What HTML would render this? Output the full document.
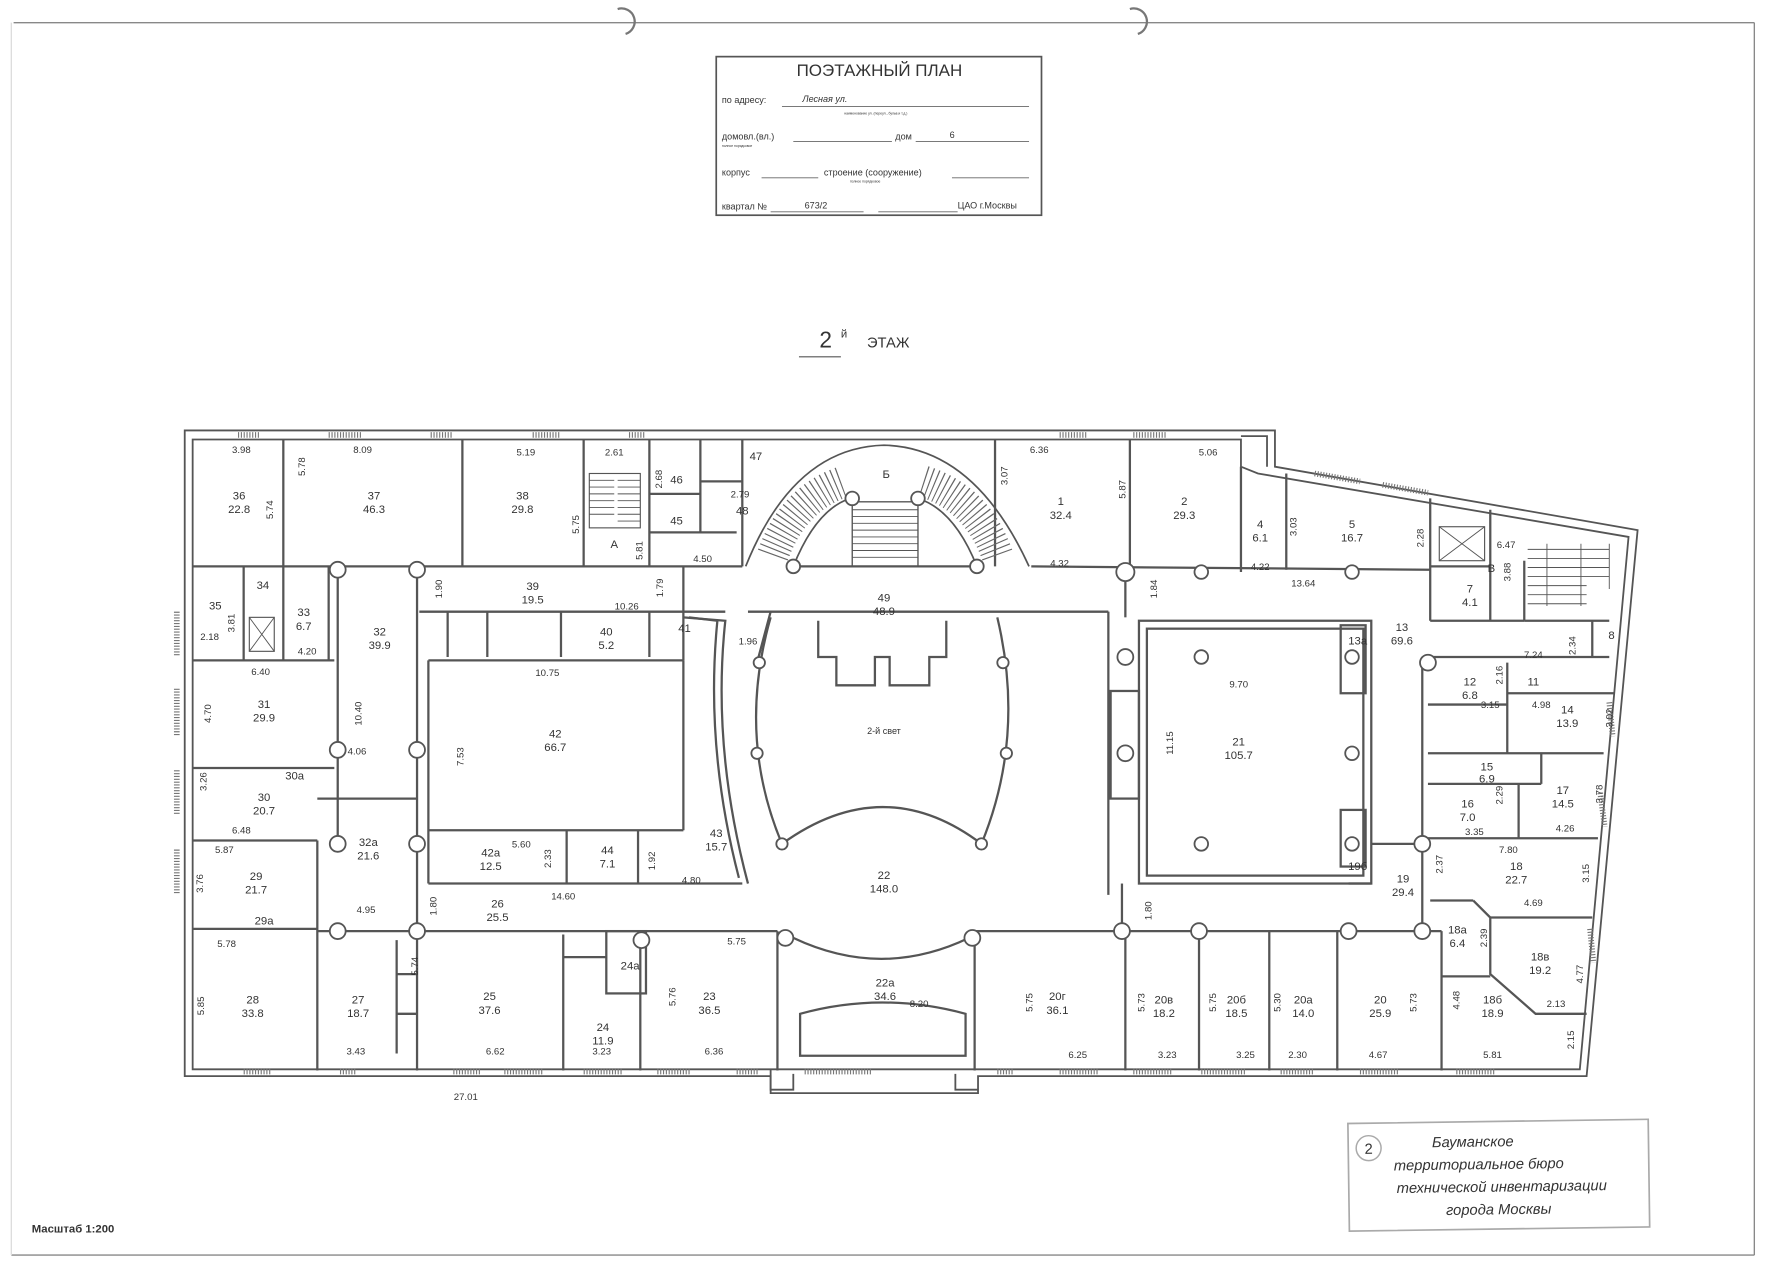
<!DOCTYPE html>
<html><head><meta charset="utf-8"><style>
html,body{margin:0;padding:0;background:#fff;}
svg{display:block}
text{font-family:"Liberation Sans",sans-serif;fill:#333}
</style></head><body>
<svg width="1777" height="1280" viewBox="0 0 1568 1130" preserveAspectRatio="none" xmlns="http://www.w3.org/2000/svg">
<rect width="1568" height="1130" fill="#fff"/>
<!-- page border -->
<g stroke="#888" stroke-width="1.2" fill="none">
<line x1="12" y1="20" x2="1548" y2="20"/>
<line x1="1548" y1="20" x2="1548" y2="1108"/>
<line x1="10" y1="1108" x2="1548" y2="1108"/>
<line x1="10" y1="20" x2="10" y2="1108" stroke="#ddd"/>
<path d="M545,8 A10,10 0 0 1 552,30" stroke="#777" stroke-width="2"/>
<path d="M997,8 A10,10 0 0 1 1004,30" stroke="#777" stroke-width="2"/>
</g>
<!-- title box -->
<rect x="632" y="50" width="287" height="140" fill="none" stroke="#555" stroke-width="1.5"/>
<text x="776" y="67" font-size="15" text-anchor="middle" fill="#444">ПОЭТАЖНЫЙ ПЛАН</text>
<g font-size="8" fill="#555">
<text x="637" y="91">по адресу:</text><text x="708" y="90" font-style="italic">Лесная ул.</text>
<text x="637" y="123">домовл.(вл.)</text><text x="790" y="123">дом</text><text x="838" y="122">6</text>
<text x="637" y="155">корпус</text><text x="727" y="155">строение (сооружение)</text>
<text x="637" y="185">квартал №</text><text x="710" y="184">673/2</text><text x="845" y="184">ЦАО г.Москвы</text>
</g>
<g font-size="3" fill="#888"><text x="745" y="101">наименование ул. (переул., бульв.и т.д.)</text><text x="637" y="130">полное порядковое</text><text x="750" y="161">полное порядковое</text></g>
<g stroke="#666" stroke-width="0.8">
<line x1="690" y1="94" x2="908" y2="94"/><line x1="700" y1="125" x2="787" y2="125"/><line x1="808" y1="125" x2="908" y2="125"/>
<line x1="672" y1="157" x2="722" y2="157"/><line x1="840" y1="157" x2="908" y2="157"/>
<line x1="680" y1="187" x2="762" y2="187"/><line x1="775" y1="187" x2="845" y2="187"/>
</g>
<!-- floor title -->
<text x="723" y="307" font-size="20" fill="#444">2</text><text x="742" y="298" font-size="10" fill="#444">й</text>
<line x1="705" y1="315" x2="742" y2="315" stroke="#555" stroke-width="1"/>
<text x="765" y="307" font-size="13" fill="#444">ЭТАЖ</text>

<!-- building outer walls -->
<g fill="none" stroke="#555" stroke-width="1.6">
<path d="M163,380 L1125,380 L1125,412 L1445,468 L1400,950 L863,950 L863,965 L680,965 L680,950 L163,950 Z"/>
<path d="M170,388 L1095,388 L1095,412 L1110,418 L1437,474 L1394,944 L170,944 Z"/>
<path d="M1095,385 L1118,385 L1118,412"/>
<path d="M680,944 L680,962 L700,962 L700,948 M843,948 L843,962 L863,962"/>
</g>
<!-- windows -->
<g stroke="#777" stroke-width="5" stroke-dasharray="1 1.5">
<line x1="156" y1="540" x2="156" y2="580"/><line x1="156" y1="608" x2="156" y2="650"/><line x1="156" y1="680" x2="156" y2="720"/><line x1="156" y1="750" x2="156" y2="790"/>
<line x1="210" y1="384" x2="230" y2="384"/><line x1="290" y1="384" x2="320" y2="384"/><line x1="380" y1="384" x2="400" y2="384"/>
<line x1="470" y1="384" x2="495" y2="384"/><line x1="555" y1="384" x2="570" y2="384"/><line x1="935" y1="384" x2="960" y2="384"/><line x1="1000" y1="384" x2="1030" y2="384"/>
<line x1="1160" y1="418" x2="1200" y2="425"/><line x1="1220" y1="428" x2="1260" y2="435"/>
<line x1="1420" y1="620" x2="1423" y2="650"/><line x1="1412" y1="700" x2="1416" y2="730"/><line x1="1403" y1="820" x2="1406" y2="850"/>
<line x1="215" y1="946" x2="240" y2="946"/><line x1="300" y1="946" x2="315" y2="946"/><line x1="400" y1="946" x2="425" y2="946"/><line x1="445" y1="946" x2="480" y2="946"/><line x1="515" y1="946" x2="550" y2="946"/><line x1="580" y1="946" x2="610" y2="946"/><line x1="650" y1="946" x2="670" y2="946"/>
<line x1="710" y1="946" x2="770" y2="946"/><line x1="880" y1="946" x2="895" y2="946"/><line x1="935" y1="946" x2="970" y2="946"/><line x1="1000" y1="946" x2="1035" y2="946"/><line x1="1060" y1="946" x2="1100" y2="946"/><line x1="1130" y1="946" x2="1160" y2="946"/><line x1="1200" y1="946" x2="1235" y2="946"/><line x1="1285" y1="946" x2="1320" y2="946"/>
</g>

<!-- interior walls -->
<g fill="none" stroke="#555" stroke-width="2">
<!-- top row -->
<line x1="250" y1="388" x2="250" y2="500"/><line x1="408" y1="388" x2="408" y2="500"/><line x1="515" y1="388" x2="515" y2="500"/>
<line x1="573" y1="388" x2="573" y2="500"/><line x1="618" y1="388" x2="618" y2="470"/><line x1="655" y1="388" x2="655" y2="500"/>
<line x1="573" y1="470" x2="650" y2="470"/><line x1="573" y1="436" x2="618" y2="436"/><line x1="618" y1="425" x2="655" y2="425"/>
<line x1="878" y1="388" x2="878" y2="500"/><line x1="997" y1="388" x2="997" y2="505"/><line x1="1095" y1="412" x2="1095" y2="505"/>
<line x1="1135" y1="418" x2="1135" y2="503"/><line x1="1262" y1="440" x2="1262" y2="548"/><line x1="1315" y1="450" x2="1315" y2="548"/>
<line x1="1262" y1="548" x2="1345" y2="548"/><line x1="1262" y1="500" x2="1315" y2="500"/>
<line x1="170" y1="500" x2="655" y2="500"/><line x1="700" y1="500" x2="862" y2="500"/><line x1="910" y1="500" x2="1262" y2="503"/>
<!-- left block -->
<line x1="215" y1="500" x2="215" y2="583"/><line x1="250" y1="500" x2="250" y2="583"/><line x1="290" y1="500" x2="290" y2="583"/>
<line x1="170" y1="583" x2="295" y2="583"/><line x1="298" y1="503" x2="298" y2="745"/><line x1="368" y1="503" x2="368" y2="945"/>
<line x1="170" y1="678" x2="295" y2="678"/><line x1="170" y1="742" x2="280" y2="742"/><line x1="280" y1="742" x2="280" y2="945"/>
<line x1="170" y1="820" x2="280" y2="820"/><line x1="280" y1="705" x2="368" y2="705"/>
<!-- corridor 39 / room 42 -->
<line x1="370" y1="540" x2="640" y2="540"/><line x1="378" y1="583" x2="603" y2="583"/><line x1="603" y1="583" x2="603" y2="733"/>
<line x1="378" y1="583" x2="378" y2="780"/><line x1="378" y1="733" x2="603" y2="733"/><line x1="378" y1="780" x2="655" y2="780"/>
<line x1="500" y1="733" x2="500" y2="780"/><line x1="563" y1="733" x2="563" y2="780"/>
<line x1="395" y1="540" x2="395" y2="580"/><line x1="430" y1="540" x2="430" y2="580"/><line x1="495" y1="540" x2="495" y2="580"/><line x1="573" y1="540" x2="573" y2="580"/>
<line x1="603" y1="500" x2="603" y2="583"/>
<path d="M603,545 L640,548 Q628,660 660,780"/>
<path d="M608,545 L633,548 Q622,660 652,775"/>
<!-- corridor 26 bottom, bottom rooms -->
<line x1="280" y1="822" x2="686" y2="822"/><line x1="860" y1="822" x2="1272" y2="822"/>
<line x1="497" y1="825" x2="497" y2="945"/><line x1="565" y1="825" x2="565" y2="945"/><line x1="686" y1="822" x2="686" y2="945"/><line x1="860" y1="822" x2="860" y2="945"/>
<line x1="993" y1="822" x2="993" y2="945"/><line x1="1058" y1="822" x2="1058" y2="945"/><line x1="1120" y1="822" x2="1120" y2="945"/><line x1="1180" y1="822" x2="1180" y2="945"/><line x1="1272" y1="822" x2="1272" y2="945"/>
<rect x="535" y="822" width="35" height="55"/><line x1="497" y1="845" x2="535" y2="845"/>
<line x1="350" y1="830" x2="350" y2="930"/><line x1="350" y1="860" x2="368" y2="860"/><line x1="350" y1="895" x2="368" y2="895"/>
<!-- central hall -->
<path d="M660,540 L680,540 L668,585"/><line x1="680" y1="540" x2="978" y2="540"/>
<line x1="978" y1="540" x2="978" y2="790"/><line x1="990" y1="780" x2="990" y2="822"/><line x1="993" y1="505" x2="993" y2="545"/>
<path d="M680,545 Q650,650 690,745 Q780,680 866,745 Q905,650 880,545"/>
<path d="M722,548 L722,580 L738,580 L738,605 L772,605 L772,580 L785,580 L785,605 L820,605 L820,580 L835,580 L835,548"/>
<path d="M700,828 Q778,865 855,828"/>
<path d="M706,895 Q778,875 852,895 L852,932 L706,932 Z"/>
<!-- room 21 -->
<rect x="1005" y="548" width="205" height="232"/>
<rect x="1012" y="555" width="191" height="218"/>
<rect x="980" y="610" width="25" height="95"/><rect x="1183" y="552" width="22" height="60"/><rect x="1183" y="715" width="22" height="50"/>
<line x1="1210" y1="745" x2="1255" y2="745"/><line x1="1190" y1="780" x2="1210" y2="780"/>
<!-- right block -->
<line x1="1255" y1="580" x2="1255" y2="822"/><line x1="1260" y1="580" x2="1420" y2="580"/>
<line x1="1345" y1="548" x2="1345" y2="495"/><line x1="1345" y1="548" x2="1420" y2="548"/><line x1="1405" y1="548" x2="1405" y2="580"/>
<line x1="1330" y1="585" x2="1330" y2="665"/><line x1="1260" y1="622" x2="1330" y2="622"/><line x1="1330" y1="612" x2="1425" y2="612"/>
<line x1="1260" y1="665" x2="1415" y2="665"/><line x1="1360" y1="665" x2="1360" y2="692"/><line x1="1260" y1="692" x2="1360" y2="692"/>
<line x1="1340" y1="692" x2="1340" y2="740"/><line x1="1260" y1="740" x2="1410" y2="740"/>
<line x1="1262" y1="795" x2="1300" y2="795"/><path d="M1300,795 L1315,810 L1315,860 L1355,895 L1400,895"/><line x1="1315" y1="810" x2="1405" y2="810"/>
<line x1="1272" y1="862" x2="1315" y2="862"/>
</g>
<!-- stairs -->
<g fill="none" stroke="#555">
<path d="M658,500 Q700,395 780,393 Q860,395 908,500" stroke-width="1.5"/>
<path d="M700,500 Q720,450 750,440 M810,440 Q842,450 862,500" stroke-width="1.5"/>
<path d="M682,490 Q700,440 745,425" stroke-width="28" stroke="#666" stroke-dasharray="1 3.5"/>
<path d="M815,425 Q862,440 880,490" stroke-width="28" stroke="#666" stroke-dasharray="1 3.5"/>
<rect x="752" y="443" width="58" height="57" stroke-width="1.2"/>
<path d="M752,450 H810 M752,456 H810 M752,462 H810 M752,468 H810 M752,474 H810 M752,480 H810 M752,486 H810 M752,492 H810" stroke-width="0.8"/>
<rect x="520" y="418" width="45" height="48" stroke-width="1"/>
<path d="M520,424H542M520,430H542M520,436H542M520,442H542M520,448H542M520,454H542M545,424H565M545,430H565M545,436H565M545,442H565M545,448H565M545,454H565M545,460H565" stroke-width="0.8"/>
<path d="M1348,485H1420M1348,493H1420M1348,501H1420M1348,509H1420M1348,517H1400M1348,525H1400M1348,533H1400M1365,480V535M1395,480V535M1420,480V520" stroke-width="0.8"/>
<rect x="1270" y="465" width="40" height="30" stroke-width="1"/><path d="M1270,465L1310,495M1310,465L1270,495" stroke-width="0.8"/>
<rect x="220" y="545" width="22" height="30" stroke-width="1"/><path d="M220,545L242,575M242,545L220,575" stroke-width="0.8"/>
</g>
<!-- columns -->
<g fill="#fff" stroke="#555" stroke-width="1.6">
<circle cx="298" cy="503" r="7"/><circle cx="368" cy="503" r="7"/><circle cx="298" cy="662" r="7"/><circle cx="368" cy="662" r="7"/>
<circle cx="298" cy="745" r="7"/><circle cx="368" cy="745" r="7"/><circle cx="298" cy="822" r="7"/><circle cx="368" cy="822" r="7"/>
<circle cx="566" cy="830" r="7"/><circle cx="693" cy="828" r="7"/><circle cx="858" cy="828" r="7"/>
<circle cx="700" cy="500" r="6"/><circle cx="862" cy="500" r="6"/><circle cx="752" cy="440" r="6"/><circle cx="810" cy="440" r="6"/>
<circle cx="993" cy="505" r="8"/><circle cx="1060" cy="505" r="6"/><circle cx="1193" cy="505" r="6"/>
<circle cx="670" cy="585" r="5"/><circle cx="668" cy="665" r="5"/><circle cx="690" cy="745" r="5"/><circle cx="866" cy="745" r="5"/><circle cx="888" cy="665" r="5"/><circle cx="885" cy="585" r="5"/>
<circle cx="993" cy="580" r="7"/><circle cx="993" cy="665" r="7"/><circle cx="990" cy="822" r="7"/><circle cx="1058" cy="822" r="7"/><circle cx="1190" cy="822" r="7"/><circle cx="1255" cy="822" r="7"/><circle cx="1255" cy="745" r="7"/><circle cx="1260" cy="585" r="7"/>
<circle cx="1060" cy="580" r="6"/><circle cx="1193" cy="580" r="6"/><circle cx="1060" cy="745" r="6"/><circle cx="1193" cy="665" r="6"/><circle cx="1193" cy="745" r="6"/>
</g>

<!-- room labels -->
<g font-size="10" text-anchor="middle" fill="#333">
<text x="211" y="441">36</text><text x="211" y="453">22.8</text>
<text x="330" y="441">37</text><text x="330" y="453">46.3</text>
<text x="461" y="441">38</text><text x="461" y="453">29.8</text>
<text x="597" y="427">46</text><text x="597" y="463">45</text><text x="667" y="406">47</text><text x="655" y="454">48</text><text x="542" y="484">А</text>
<text x="936" y="446">1</text><text x="936" y="458">32.4</text>
<text x="1045" y="446">2</text><text x="1045" y="458">29.3</text>
<text x="1112" y="466">4</text><text x="1112" y="478">6.1</text>
<text x="1193" y="466">5</text><text x="1193" y="478">16.7</text>
<text x="782" y="422">Б</text><text x="1316" y="505">В</text>
<text x="1297" y="523">7</text><text x="1297" y="535">4.1</text>
<text x="470" y="521">39</text><text x="470" y="533">19.5</text>
<text x="780" y="531">49</text><text x="780" y="543">48.9</text>
<text x="535" y="561">40</text><text x="535" y="573">5.2</text><text x="604" y="558">41</text>
<text x="1237" y="557">13</text><text x="1237" y="569">69.6</text><text x="1198" y="569">13а</text>
<text x="268" y="544">33</text><text x="268" y="556">6.7</text><text x="232" y="520">34</text><text x="190" y="538">35</text>
<text x="335" y="561">32</text><text x="335" y="573">39.9</text>
<text x="233" y="625">31</text><text x="233" y="637">29.9</text>
<text x="490" y="651">42</text><text x="490" y="663">66.7</text>
<text x="780" y="648" font-size="8">2-й свет</text>
<text x="1093" y="658">21</text><text x="1093" y="670">105.7</text>
<text x="1297" y="605">12</text><text x="1297" y="617">6.8</text><text x="1353" y="605">11</text><text x="1422" y="564">8</text>
<text x="1383" y="630">14</text><text x="1383" y="642">13.9</text>
<text x="1312" y="680">15</text><text x="1312" y="691">6.9</text>
<text x="1295" y="713">16</text><text x="1295" y="725">7.0</text>
<text x="1379" y="701">17</text><text x="1379" y="713">14.5</text>
<text x="233" y="707">30</text><text x="233" y="719">20.7</text><text x="260" y="688">30а</text>
<text x="325" y="747">32а</text><text x="325" y="759">21.6</text>
<text x="433" y="756">42а</text><text x="433" y="768">12.5</text>
<text x="536" y="754">44</text><text x="536" y="766">7.1</text>
<text x="632" y="739">43</text><text x="632" y="751">15.7</text>
<text x="780" y="776">22</text><text x="780" y="788">148.0</text>
<text x="1198" y="768">19б</text><text x="1238" y="779">19</text><text x="1238" y="791">29.4</text>
<text x="1338" y="768">18</text><text x="1338" y="780">22.7</text>
<text x="226" y="777">29</text><text x="226" y="789">21.7</text><text x="233" y="816">29а</text>
<text x="439" y="801">26</text><text x="439" y="813">25.5</text>
<text x="1286" y="824">18а</text><text x="1286" y="836">6.4</text>
<text x="1359" y="848">18в</text><text x="1359" y="860">19.2</text><text x="556" y="856">24а</text>
<text x="223" y="886">28</text><text x="223" y="898">33.8</text>
<text x="316" y="886">27</text><text x="316" y="898">18.7</text>
<text x="432" y="883">25</text><text x="432" y="895">37.6</text>
<text x="532" y="910">24</text><text x="532" y="922">11.9</text>
<text x="626" y="883">23</text><text x="626" y="895">36.5</text>
<text x="781" y="871">22а</text><text x="781" y="883">34.6</text>
<text x="933" y="883">20г</text><text x="933" y="895">36.1</text>
<text x="1027" y="886">20в</text><text x="1027" y="898">18.2</text>
<text x="1091" y="886">20б</text><text x="1091" y="898">18.5</text>
<text x="1150" y="886">20а</text><text x="1150" y="898">14.0</text>
<text x="1218" y="886">20</text><text x="1218" y="898">25.9</text>
<text x="1317" y="886">18б</text><text x="1317" y="898">18.9</text>
</g>
<!-- dimensions -->
<g font-size="8.5" text-anchor="middle" fill="#555">
<text x="213" y="400">3.98</text><text x="320" y="400">8.09</text><text x="464" y="402">5.19</text><text x="542" y="402">2.61</text><text x="917" y="400">6.36</text><text x="1066" y="402">5.06</text>
<text x="620" y="496">4.50</text><text x="935" y="500">4.32</text><text x="1112" y="503">4.22</text><text x="1150" y="518">13.64</text><text x="553" y="538">10.26</text><text x="660" y="569">1.96</text>
<text x="230" y="596">6.40</text><text x="185" y="565">2.18</text><text x="271" y="578">4.20</text><text x="483" y="597">10.75</text><text x="1093" y="607">9.70</text><text x="1353" y="581">7.24</text>
<text x="1315" y="625">3.15</text><text x="1360" y="625">4.98</text><text x="1329" y="484">6.47</text><text x="653" y="439">2.79</text><text x="315" y="666">4.06</text><text x="213" y="736">6.48</text><text x="198" y="753">5.87</text>
<text x="460" y="748">5.60</text><text x="497" y="794">14.60</text><text x="610" y="780">4.80</text><text x="323" y="806">4.95</text><text x="1301" y="737">3.35</text><text x="1381" y="734">4.26</text><text x="1331" y="753">7.80</text><text x="1353" y="800">4.69</text>
<text x="200" y="836">5.78</text><text x="650" y="834">5.75</text><text x="811" y="889">8.20</text><text x="1373" y="889">2.13</text>
<text x="314" y="931">3.43</text><text x="437" y="931">6.62</text><text x="531" y="931">3.23</text><text x="630" y="931">6.36</text><text x="951" y="934">6.25</text><text x="1030" y="934">3.23</text><text x="1099" y="934">3.25</text><text x="1145" y="934">2.30</text><text x="1216" y="934">4.67</text><text x="1317" y="934">5.81</text>
<text x="411" y="971">27.01</text>
</g>
<g font-size="8.5" text-anchor="middle" fill="#555">
<text transform="translate(241,450) rotate(-90)">5.74</text><text transform="translate(269,412) rotate(-90)">5.78</text><text transform="translate(511,463) rotate(-90)">5.75</text><text transform="translate(567,486) rotate(-90)">5.81</text><text transform="translate(584,423) rotate(-90)">2.68</text>
<text transform="translate(889,420) rotate(-90)">3.07</text><text transform="translate(993,432) rotate(-90)">5.87</text><text transform="translate(1144,465) rotate(-90)">3.03</text><text transform="translate(1256,475) rotate(-90)">2.28</text><text transform="translate(1333,505) rotate(-90)">3.88</text>
<text transform="translate(390,520) rotate(-90)">1.90</text><text transform="translate(585,519) rotate(-90)">1.79</text><text transform="translate(1021,520) rotate(-90)">1.84</text><text transform="translate(207,550) rotate(-90)">3.81</text><text transform="translate(1390,570) rotate(-90)">2.34</text>
<text transform="translate(1326,596) rotate(-90)">2.16</text><text transform="translate(1423,634) rotate(-90)">3.02</text><text transform="translate(186,630) rotate(-90)">4.70</text><text transform="translate(319,630) rotate(-90)">10.40</text><text transform="translate(409,668) rotate(-90)">7.53</text>
<text transform="translate(1035,656) rotate(-90)">11.15</text><text transform="translate(1414,701) rotate(-90)">3.78</text><text transform="translate(1326,702) rotate(-90)">2.29</text><text transform="translate(182,690) rotate(-90)">3.26</text><text transform="translate(1273,763) rotate(-90)">2.37</text>
<text transform="translate(486,758) rotate(-90)">2.33</text><text transform="translate(578,760) rotate(-90)">1.92</text><text transform="translate(1402,771) rotate(-90)">3.15</text><text transform="translate(179,780) rotate(-90)">3.76</text><text transform="translate(385,800) rotate(-90)">1.80</text>
<text transform="translate(1016,804) rotate(-90)">1.80</text><text transform="translate(1312,828) rotate(-90)">2.39</text><text transform="translate(369,853) rotate(-90)">5.74</text><text transform="translate(596,880) rotate(-90)">5.76</text><text transform="translate(911,885) rotate(-90)">5.75</text>
<text transform="translate(1010,885) rotate(-90)">5.73</text><text transform="translate(1073,885) rotate(-90)">5.75</text><text transform="translate(1130,885) rotate(-90)">5.30</text><text transform="translate(1250,885) rotate(-90)">5.73</text><text transform="translate(1288,883) rotate(-90)">4.48</text>
<text transform="translate(1397,860) rotate(-90)">4.77</text><text transform="translate(180,888) rotate(-90)">5.85</text><text transform="translate(1389,918) rotate(-90)">2.15</text>
</g>

<!-- stamp -->
<g transform="rotate(-0.8 1322 1037)">
<rect x="1190" y="990" width="265" height="95" fill="none" stroke="#aaa" stroke-width="1.5"/>
<circle cx="1208" cy="1012" r="11" fill="none" stroke="#aaa" stroke-width="1.3"/>
<text x="1208" y="1017" font-size="13" text-anchor="middle" fill="#999">2</text>
<g font-size="13" font-style="italic" text-anchor="middle" fill="#999">
<text x="1300" y="1012">Бауманское</text>
<text x="1305" y="1032">территориальное бюро</text>
<text x="1325" y="1052">технической инвентаризации</text>
<text x="1322" y="1072">города Москвы</text>
</g>
</g>
<text x="28" y="1088" font-size="10" font-weight="bold" fill="#333">Масштаб 1:200</text>
</svg>
</body></html>
